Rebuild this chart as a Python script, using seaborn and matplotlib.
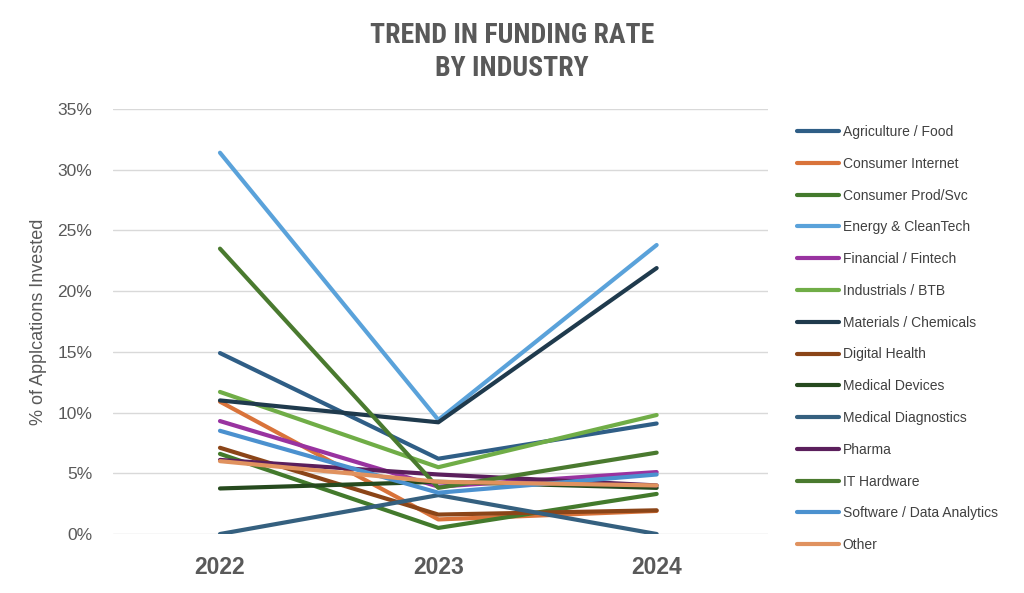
import pandas as pd
import numpy as np
import matplotlib
matplotlib.use("Agg")
import matplotlib.pyplot as plt
import seaborn as sns
from matplotlib import font_manager

# Data
years = ["2022", "2023", "2024"]
industries = [
    "Agriculture / Food", "Consumer Internet", "Consumer Prod/Svc",
    "Energy & CleanTech", "Financial / Fintech", "Industrials / BTB",
    "Materials / Chemicals", "Digital Health", "Medical Devices",
    "Medical Diagnostics", "Pharma", "IT Hardware",
    "Software / Data Analytics", "Other",
]
agriculture = [14.9, 6.2, 9.1]
consumer_internet = [10.9, 1.2, 1.9]
consumer_prod = [6.6, 0.5, 3.3]
energy = [31.4, 9.4, 23.8]
financial = [9.3, 3.9, 5.1]
industrials = [11.7, 5.5, 9.8]
materials = [11.0, 9.2, 21.9]
digital_health = [7.1, 1.6, 1.95]
medical_devices = [3.75, 4.3, 3.8]
medical_diag = [0.0, 3.2, 0.0]
pharma = [6.1, 4.9, 4.0]
it_hardware = [23.5, 3.8, 6.7]
software = [8.5, 3.4, 4.9]
other = [6.0, 4.3, 4.0]

colors = [
    "#2f5e86", "#d9733a", "#437a2c", "#5aa2da", "#9933a0", "#70ad47",
    "#1f3a4d", "#8b4518", "#264a1e", "#35607f", "#5b1f5c", "#4a7a2f",
    "#4b91cf", "#e0925f",
]

series = [agriculture, consumer_internet, consumer_prod, energy, financial,
          industrials, materials, digital_health, medical_devices,
          medical_diag, pharma, it_hardware, software, other]

rows = []
for name, vals in zip(industries, series):
    for i, (yr, v) in enumerate(zip(years, vals)):
        rows.append({"idx": i, "year": yr, "industry": name, "rate": v / 100})
df = pd.DataFrame(rows)

sns.set_style("white")
plt.rcParams["font.family"] = ["Liberation Sans", "DejaVu Sans"]

# pick a narrow face for the title if one is installed
installed = {f.name for f in font_manager.fontManager.ttflist}
title_family = "Liberation Sans"
for cand in ["Roboto Condensed", "Liberation Sans Narrow", "Open Sans Condensed"]:
    if cand in installed:
        title_family = cand
        break

fig = plt.figure(figsize=(10.24, 5.93), dpi=100)
ax = fig.add_axes([113 / 1024, 1 - 534 / 593, (768 - 113) / 1024, (534 - 109) / 593])

sns.lineplot(data=df, x="idx", y="rate", hue="industry", hue_order=industries,
             palette=dict(zip(industries, colors)), linewidth=3.0, ax=ax,
             legend=False)

ax.set_xlim(-0.49, 2.51)
ax.set_ylim(0, 0.35)
ax.set_yticks(np.arange(0, 0.351, 0.05))
ax.set_yticklabels([f"{int(round(t * 100))}%" for t in np.arange(0, 0.351, 0.05)],
                   fontsize=12.5, color="#595959")
ax.set_xticks(range(len(years)))
ax.set_xticklabels(years, fontsize=16.5, fontweight="bold", color="#595959")
ax.tick_params(axis="y", length=0, pad=15)
ax.tick_params(axis="x", length=0, pad=16)
ax.yaxis.grid(True, color="#d9d9d9", linewidth=1.0)
ax.set_axisbelow(True)
for s in ax.spines.values():
    s.set_visible(False)

ax.set_xlabel("")
ax.set_ylabel("% of Applcations Invested", fontsize=13, color="#595959")
ax.yaxis.set_label_coords(-0.1, 0.5)

fig.text(512 / 1024, 1 - 52 / 593, "TREND IN FUNDING RATE\nBY INDUSTRY",
         ha="center", va="center", fontsize=20, fontweight="bold",
         color="#595959", family=title_family, linespacing=1.3)

handles = [plt.Line2D([], [], color=c, linewidth=3.0) for c in colors]
fig.legend(handles, industries, loc="upper left",
           bbox_to_anchor=(797 / 1024, 1 - 125 / 593), frameon=False,
           fontsize=10, labelcolor="#404040", handlelength=3.0,
           handletextpad=0.3, labelspacing=1.28, borderpad=0,
           borderaxespad=0)

fig.savefig("out.png", dpi=100)
